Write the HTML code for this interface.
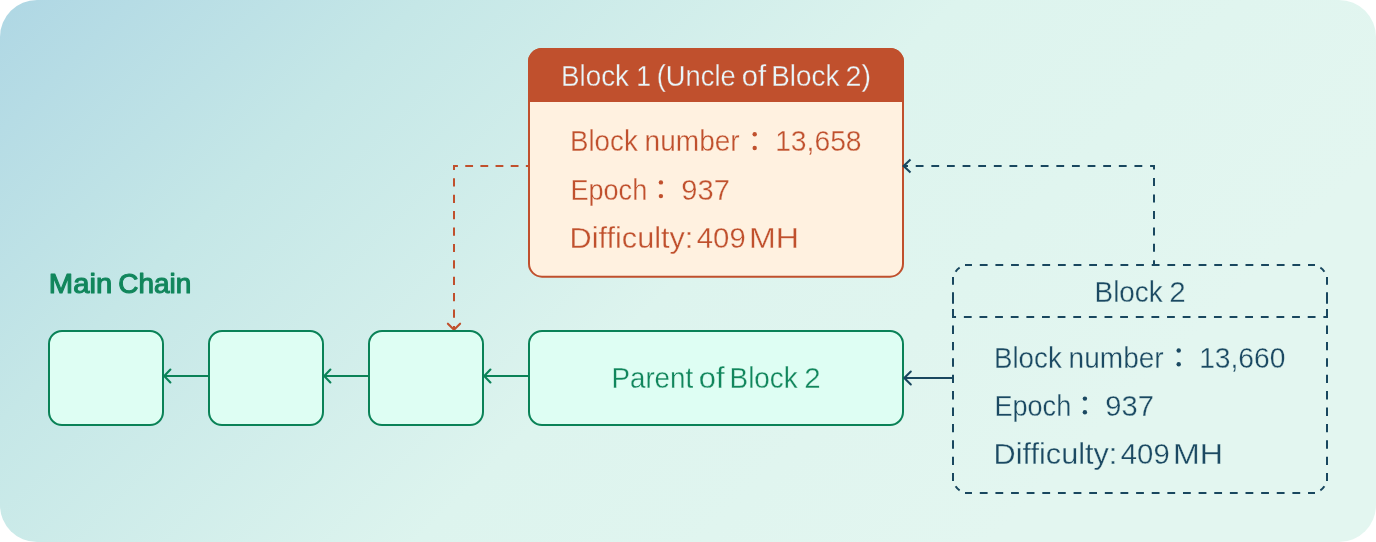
<!DOCTYPE html>
<html lang="en">
<head>
<meta charset="utf-8">
<title>Uncle block diagram</title>
<style>
html,body{margin:0;padding:0;background:#ffffff;}
body{width:1376px;height:542px;overflow:hidden;font-family:"Liberation Sans",sans-serif;}
#card{position:absolute;left:0;top:0;width:1376px;height:542px;border-radius:37px;overflow:hidden;
background:linear-gradient(135deg,#afd7e4 0%,#c5e7e7 22%,#ddf4ee 50%,#e3f6f0 80%,#e3f6f0 100%);}
svg{position:absolute;left:0;top:0;will-change:transform;transform:translateZ(0);}
text{font-family:"Liberation Sans",sans-serif;}
</style>
</head>
<body>
<div id="card"></div>
<svg width="1376" height="542" viewBox="0 0 1376 542">
<path d="M453.00 166H457.90 M465.25 166H473.05 M480.40 166H488.20 M495.55 166H503.35 M510.70 166H518.50 M525.85 166H530.00" stroke="#c0502d" stroke-width="2" fill="none"/>
<path d="M454 165.00V170.10 M454 178.30V186.50 M454 194.70V202.90 M454 211.10V219.30 M454 227.50V235.70 M454 243.90V252.10 M454 260.30V268.50 M454 276.70V284.90 M454 293.10V301.30 M454 309.50V317.70 M454 325.90V330.00" stroke="#c0502d" stroke-width="2" fill="none"/>
<path d="M447.9 323.7L454 329.8L460.1 323.7" stroke="#c0502d" stroke-width="2.1" fill="none" stroke-linecap="round" stroke-linejoin="miter"/>
<path d="M904.00 166H907.90 M915.73 166H923.52 M931.35 166H939.15 M946.98 166H954.77 M962.60 166H970.40 M978.23 166H986.02 M993.85 166H1001.65 M1009.48 166H1017.27 M1025.10 166H1032.90 M1040.72 166H1048.53 M1056.35 166H1064.15 M1071.97 166H1079.78 M1087.60 166H1095.40 M1103.22 166H1111.03 M1118.85 166H1126.65 M1134.47 166H1142.28 M1150.10 166H1155.00" stroke="#19475f" stroke-width="2" fill="none"/>
<path d="M1154 165.00V169.60 M1154 178.05V186.05 M1154 194.50V202.50 M1154 210.95V218.95 M1154 227.40V235.40 M1154 243.85V251.85 M1154 260.30V265.00" stroke="#19475f" stroke-width="2" fill="none"/>
<rect x="529" y="49" width="374" height="227.7" rx="13" fill="#fff1e0"/>
<path d="M528 102V62A14 14 0 0 1 542 48H890A14 14 0 0 1 904 62V102Z" fill="#c0502d"/>
<rect x="529" y="49" width="374" height="227.7" rx="13" fill="none" stroke="#c0502d" stroke-width="2"/>
<text x="560.95" y="85.80" textLength="68.11" lengthAdjust="spacingAndGlyphs" font-size="28.8" fill="#e9f6fa" stroke="#c0502d" stroke-width="0.3" stroke-linejoin="round">Block</text>
<text x="636.36" y="85.80" textLength="14.79" lengthAdjust="spacingAndGlyphs" font-size="28.8" fill="#e9f6fa" stroke="#c0502d" stroke-width="0.3" stroke-linejoin="round">1</text>
<text x="656.74" y="85.80" textLength="79.03" lengthAdjust="spacingAndGlyphs" font-size="28.8" fill="#e9f6fa" stroke="#c0502d" stroke-width="0.3" stroke-linejoin="round">(Uncle</text>
<text x="741.81" y="85.80" textLength="24.31" lengthAdjust="spacingAndGlyphs" font-size="28.8" fill="#e9f6fa" stroke="#c0502d" stroke-width="0.3" stroke-linejoin="round">of</text>
<text x="771.25" y="85.80" textLength="68.11" lengthAdjust="spacingAndGlyphs" font-size="28.8" fill="#e9f6fa" stroke="#c0502d" stroke-width="0.3" stroke-linejoin="round">Block</text>
<text x="845.52" y="85.80" textLength="25.50" lengthAdjust="spacingAndGlyphs" font-size="28.8" fill="#e9f6fa" stroke="#c0502d" stroke-width="0.3" stroke-linejoin="round">2)</text>
<text x="569.96" y="151.40" textLength="67.80" lengthAdjust="spacingAndGlyphs" font-size="28.8" fill="#c0502d" stroke="#fff1e0" stroke-width="0.3" stroke-linejoin="round">Block</text>
<text x="644.56" y="151.40" textLength="95.13" lengthAdjust="spacingAndGlyphs" font-size="28.8" fill="#c0502d" stroke="#fff1e0" stroke-width="0.3" stroke-linejoin="round">number</text>
<circle cx="754.70" cy="134.30" r="2.2" fill="#c0502d"/><circle cx="754.70" cy="148.00" r="2.2" fill="#c0502d"/>
<text x="775.13" y="151.40" textLength="86.46" lengthAdjust="spacingAndGlyphs" font-size="28.8" fill="#c0502d" stroke="#fff1e0" stroke-width="0.3" stroke-linejoin="round">13,658</text>
<text x="570.41" y="199.50" textLength="76.84" lengthAdjust="spacingAndGlyphs" font-size="28.8" fill="#c0502d" stroke="#fff1e0" stroke-width="0.3" stroke-linejoin="round">Epoch</text>
<circle cx="660.90" cy="182.40" r="2.2" fill="#c0502d"/><circle cx="660.90" cy="196.10" r="2.2" fill="#c0502d"/>
<text x="681.27" y="199.50" textLength="48.57" lengthAdjust="spacingAndGlyphs" font-size="28.8" fill="#c0502d" stroke="#fff1e0" stroke-width="0.3" stroke-linejoin="round">937</text>
<text x="569.62" y="247.50" textLength="123.71" lengthAdjust="spacingAndGlyphs" font-size="28.8" fill="#c0502d" stroke="#fff1e0" stroke-width="0.3" stroke-linejoin="round">Difficulty:</text>
<text x="696.79" y="247.50" textLength="48.91" lengthAdjust="spacingAndGlyphs" font-size="28.8" fill="#c0502d" stroke="#fff1e0" stroke-width="0.3" stroke-linejoin="round">409</text>
<text x="749.00" y="247.50" textLength="50.01" lengthAdjust="spacingAndGlyphs" font-size="28.8" fill="#c0502d" stroke="#fff1e0" stroke-width="0.3" stroke-linejoin="round">MH</text>
<path d="M903.3 166H908M910.5 159.6L903.6 166L910.5 172.4" stroke="#19475f" stroke-width="2.1" fill="none" stroke-linecap="butt" stroke-linejoin="miter"/>
<rect x="49" y="331" width="114" height="94" rx="13" fill="#defef3" stroke="#0a8257" stroke-width="2"/>
<rect x="209" y="331" width="114" height="94" rx="13" fill="#defef3" stroke="#0a8257" stroke-width="2"/>
<rect x="369" y="331" width="114" height="94" rx="13" fill="#defef3" stroke="#0a8257" stroke-width="2"/>
<rect x="529" y="331" width="374" height="94" rx="13" fill="#defef3" stroke="#0a8257" stroke-width="2"/>
<path d="M208 376H164.5M170.4 369.5L164.2 376L170.4 382.5" stroke="#0a8257" stroke-width="2.1" fill="none" stroke-linecap="round"/>
<path d="M368 376H324.5M330.4 369.5L324.2 376L330.4 382.5" stroke="#0a8257" stroke-width="2.1" fill="none" stroke-linecap="round"/>
<path d="M528 376H484.5M490.4 369.5L484.2 376L490.4 382.5" stroke="#0a8257" stroke-width="2.1" fill="none" stroke-linecap="round"/>
<path d="M952 378H904.5M910.8 371.5L904.3 378L910.8 384.5" stroke="#19475f" stroke-width="2.1" fill="none" stroke-linecap="round"/>
<text x="611.46" y="387.60" textLength="81.73" lengthAdjust="spacingAndGlyphs" font-size="28.8" fill="#11865c" stroke="#defef3" stroke-width="0.3" stroke-linejoin="round">Parent</text>
<text x="698.84" y="387.60" textLength="25.78" lengthAdjust="spacingAndGlyphs" font-size="28.8" fill="#11865c" stroke="#defef3" stroke-width="0.3" stroke-linejoin="round">of</text>
<text x="729.55" y="387.60" textLength="68.21" lengthAdjust="spacingAndGlyphs" font-size="28.8" fill="#11865c" stroke="#defef3" stroke-width="0.3" stroke-linejoin="round">Block</text>
<text x="804.28" y="387.60" textLength="16.38" lengthAdjust="spacingAndGlyphs" font-size="28.8" fill="#11865c" stroke="#defef3" stroke-width="0.3" stroke-linejoin="round">2</text>
<text x="48.84" y="293.20" textLength="63.34" lengthAdjust="spacingAndGlyphs" font-size="27.0" fill="#11865c" stroke="#11865c" stroke-width="1.1" stroke-linejoin="round">Main</text>
<text x="118.25" y="293.20" textLength="72.95" lengthAdjust="spacingAndGlyphs" font-size="27.0" fill="#11865c" stroke="#11865c" stroke-width="1.1" stroke-linejoin="round">Chain</text>
<path d="M965.00 265H971.97 M979.80 265H987.60 M995.43 265H1003.23 M1011.06 265H1018.86 M1026.69 265H1034.49 M1042.32 265H1050.12 M1057.95 265H1065.75 M1073.58 265H1081.38 M1089.21 265H1097.01 M1104.84 265H1112.64 M1120.47 265H1128.27 M1136.10 265H1143.90 M1151.73 265H1159.53 M1167.36 265H1175.16 M1182.99 265H1190.79 M1198.62 265H1206.42 M1214.25 265H1222.05 M1229.88 265H1237.68 M1245.51 265H1253.31 M1261.14 265H1268.94 M1276.77 265H1284.57 M1292.40 265H1300.20 M1308.03 265H1315.00" stroke="#19475f" stroke-width="2" fill="none"/>
<path d="M965.00 493H971.97 M979.80 493H987.60 M995.43 493H1003.23 M1011.06 493H1018.86 M1026.69 493H1034.49 M1042.32 493H1050.12 M1057.95 493H1065.75 M1073.58 493H1081.38 M1089.21 493H1097.01 M1104.84 493H1112.64 M1120.47 493H1128.27 M1136.10 493H1143.90 M1151.73 493H1159.53 M1167.36 493H1175.16 M1182.99 493H1190.79 M1198.62 493H1206.42 M1214.25 493H1222.05 M1229.88 493H1237.68 M1245.51 493H1253.31 M1261.14 493H1268.94 M1276.77 493H1284.57 M1292.40 493H1300.20 M1308.03 493H1315.00" stroke="#19475f" stroke-width="2" fill="none"/>
<path d="M952.00 317H956.04 M963.87 317H971.67 M979.50 317H987.30 M995.13 317H1002.93 M1010.76 317H1018.56 M1026.39 317H1034.19 M1042.02 317H1049.82 M1057.65 317H1065.45 M1073.28 317H1081.08 M1088.91 317H1096.71 M1104.54 317H1112.34 M1120.17 317H1127.97 M1135.80 317H1143.60 M1151.43 317H1159.23 M1167.06 317H1174.86 M1182.69 317H1190.49 M1198.32 317H1206.12 M1213.95 317H1221.75 M1229.58 317H1237.38 M1245.21 317H1253.01 M1260.84 317H1268.64 M1276.47 317H1284.27 M1292.10 317H1299.90 M1307.73 317H1315.53 M1323.36 317H1328.00" stroke="#19475f" stroke-width="2" fill="none"/>
<path d="M953 277.00V284.70 M953 325.50V333.90 M953 341.90V350.30 M953 358.30V366.70 M953 374.70V383.10 M953 391.10V399.50 M953 407.50V415.90 M953 423.90V432.30 M953 440.30V448.70 M953 456.70V465.10 M953 473.10V481.00 M953 292.20V303.70 M953 309.00V318.00" stroke="#19475f" stroke-width="2" fill="none"/>
<path d="M1327 277.00V284.70 M1327 325.50V333.90 M1327 341.90V350.30 M1327 358.30V366.70 M1327 374.70V383.10 M1327 391.10V399.50 M1327 407.50V415.90 M1327 423.90V432.30 M1327 440.30V448.70 M1327 456.70V465.10 M1327 473.10V481.00 M1327 292.20V303.70 M1327 309.00V318.00" stroke="#19475f" stroke-width="2" fill="none"/>
<path d="M955.62 271.65A12 12 0 0 1 959.65 267.62" stroke="#19475f" stroke-width="2" fill="none"/>
<path d="M1320.35 267.62A12 12 0 0 1 1324.38 271.65" stroke="#19475f" stroke-width="2" fill="none"/>
<path d="M1324.38 486.35A12 12 0 0 1 1320.35 490.38" stroke="#19475f" stroke-width="2" fill="none"/>
<path d="M959.65 490.38A12 12 0 0 1 955.62 486.35" stroke="#19475f" stroke-width="2" fill="none"/>
<text x="1094.55" y="301.80" textLength="68.21" lengthAdjust="spacingAndGlyphs" font-size="28.8" fill="#1b4962" stroke="#dff5ee" stroke-width="0.3" stroke-linejoin="round">Block</text>
<text x="1169.27" y="301.80" textLength="16.44" lengthAdjust="spacingAndGlyphs" font-size="28.8" fill="#1b4962" stroke="#dff5ee" stroke-width="0.3" stroke-linejoin="round">2</text>
<text x="993.96" y="367.60" textLength="67.80" lengthAdjust="spacingAndGlyphs" font-size="28.8" fill="#1b4962" stroke="#e0f5ef" stroke-width="0.3" stroke-linejoin="round">Block</text>
<text x="1068.56" y="367.60" textLength="95.13" lengthAdjust="spacingAndGlyphs" font-size="28.8" fill="#1b4962" stroke="#e0f5ef" stroke-width="0.3" stroke-linejoin="round">number</text>
<circle cx="1178.70" cy="350.50" r="2.2" fill="#1b4962"/><circle cx="1178.70" cy="364.20" r="2.2" fill="#1b4962"/>
<text x="1199.13" y="367.60" textLength="86.31" lengthAdjust="spacingAndGlyphs" font-size="28.8" fill="#1b4962" stroke="#e0f5ef" stroke-width="0.3" stroke-linejoin="round">13,660</text>
<text x="994.41" y="415.70" textLength="76.84" lengthAdjust="spacingAndGlyphs" font-size="28.8" fill="#1b4962" stroke="#e0f5ef" stroke-width="0.3" stroke-linejoin="round">Epoch</text>
<circle cx="1084.90" cy="398.60" r="2.2" fill="#1b4962"/><circle cx="1084.90" cy="412.30" r="2.2" fill="#1b4962"/>
<text x="1105.27" y="415.70" textLength="48.57" lengthAdjust="spacingAndGlyphs" font-size="28.8" fill="#1b4962" stroke="#e0f5ef" stroke-width="0.3" stroke-linejoin="round">937</text>
<text x="993.62" y="463.70" textLength="123.71" lengthAdjust="spacingAndGlyphs" font-size="28.8" fill="#1b4962" stroke="#e0f5ef" stroke-width="0.3" stroke-linejoin="round">Difficulty:</text>
<text x="1120.79" y="463.70" textLength="48.91" lengthAdjust="spacingAndGlyphs" font-size="28.8" fill="#1b4962" stroke="#e0f5ef" stroke-width="0.3" stroke-linejoin="round">409</text>
<text x="1173.00" y="463.70" textLength="50.01" lengthAdjust="spacingAndGlyphs" font-size="28.8" fill="#1b4962" stroke="#e0f5ef" stroke-width="0.3" stroke-linejoin="round">MH</text>
</svg>
</body>
</html>
